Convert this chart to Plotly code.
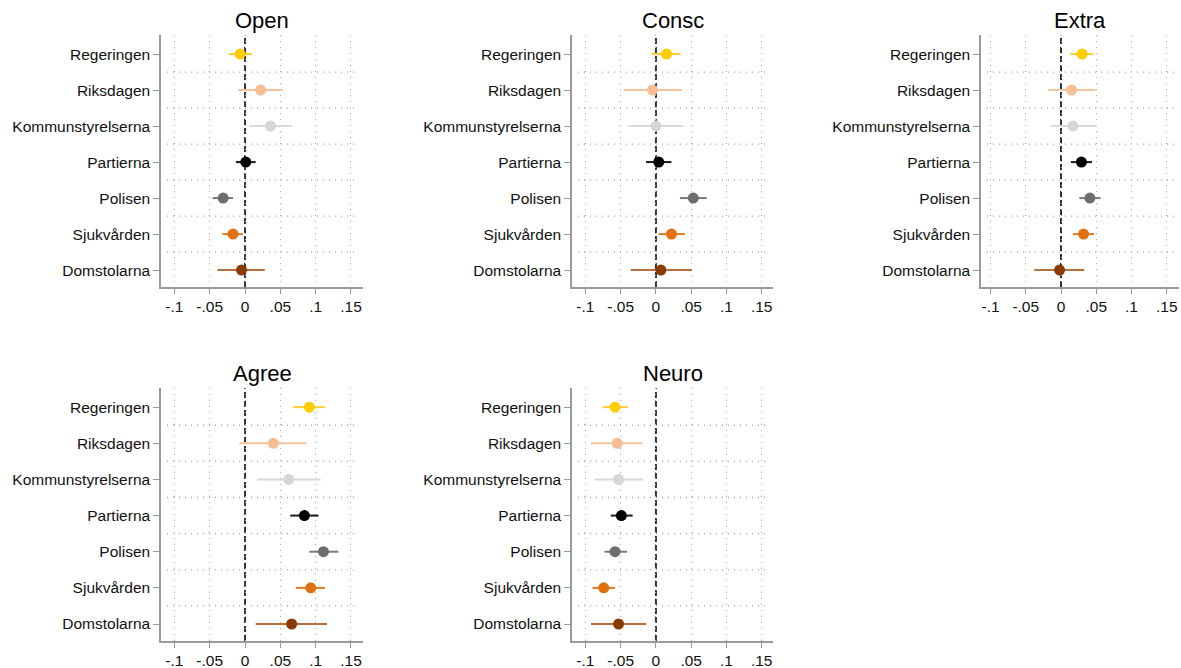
import plotly.graph_objects as go

categories = ["Regeringen", "Riksdagen", "Kommunstyrelserna", "Partierna",
              "Polisen", "Sjukvården", "Domstolarna"]
panels = ["Open", "Consc", "Extra", "Agree", "Neuro"]

marker_colors = ["#FFCC00", "#F6BE92", "#D6D6D6", "#000000", "#6E6E6E", "#E2700F", "#8A3C00"]
line_colors = ["#FFCC33", "#F6C39C", "#DADADA", "#1A1A1A", "#7A7A7A", "#E27A22", "#B5703F"]

open_est = [-0.007, 0.022, 0.036, 0.001, -0.031, -0.017, -0.005]
open_lo = [-0.023, -0.010, 0.006, -0.013, -0.046, -0.032, -0.039]
open_hi = [0.010, 0.053, 0.066, 0.015, -0.017, -0.003, 0.028]

consc_est = [0.015, -0.005, 0.000, 0.004, 0.053, 0.022, 0.007]
consc_lo = [-0.006, -0.046, -0.039, -0.014, 0.034, 0.004, -0.036]
consc_hi = [0.035, 0.037, 0.039, 0.022, 0.072, 0.041, 0.051]

extra_est = [0.030, 0.015, 0.017, 0.029, 0.041, 0.032, -0.002]
extra_lo = [0.013, -0.018, -0.015, 0.014, 0.026, 0.017, -0.038]
extra_hi = [0.046, 0.049, 0.051, 0.044, 0.056, 0.047, 0.033]

agree_est = [0.091, 0.040, 0.062, 0.084, 0.111, 0.093, 0.066]
agree_lo = [0.068, -0.008, 0.017, 0.064, 0.091, 0.072, 0.015]
agree_hi = [0.113, 0.087, 0.107, 0.104, 0.132, 0.113, 0.116]

neuro_est = [-0.058, -0.055, -0.053, -0.049, -0.058, -0.074, -0.053]
neuro_lo = [-0.076, -0.092, -0.087, -0.064, -0.073, -0.090, -0.092]
neuro_hi = [-0.040, -0.019, -0.018, -0.033, -0.041, -0.058, -0.014]

x_tickvals = [-0.1, -0.05, 0, 0.05, 0.1, 0.15]
x_ticktext = ["-.1", "-.05", "0", ".05", ".1", ".15"]

data = [
    (open_est, open_lo, open_hi),
    (consc_est, consc_lo, consc_hi),
    (extra_est, extra_lo, extra_hi),
    (agree_est, agree_lo, agree_hi),
    (neuro_est, neuro_lo, neuro_hi),
]

W, H = 1181, 668
col_px = [(161, 363), (572, 773), (981, 1179)]
col_ranges = [[-0.119, 0.167], [-0.119, 0.166], [-0.1135, 0.1674]]
row_px = [(35, 287), (388, 641)]

fig = go.Figure()
font_family = "Liberation Sans, Arial, Helvetica, sans-serif"
axis_color = "#9a9a9a"

for p, name in enumerate(panels):
    r, c = divmod(p, 3)
    xa = "x" if p == 0 else f"x{p+1}"
    ya = "y" if p == 0 else f"y{p+1}"
    est, lo, hi = data[p]
    for i, cat in enumerate(categories):
        fig.add_trace(go.Scatter(
            x=[est[i]], y=[i + 1], mode="markers",
            marker=dict(size=11, color=marker_colors[i]),
            error_x=dict(type="data", symmetric=False,
                         array=[hi[i] - est[i]], arrayminus=[est[i] - lo[i]],
                         width=0, thickness=2, color=line_colors[i]),
            xaxis=xa, yaxis=ya, showlegend=False, name=cat,
        ))
    x0, x1 = col_px[c]
    t, b = row_px[r]
    xd = [x0 / W, min(x1 / W, 1.0)]
    yd = [1 - b / H, 1 - t / H]
    xkey = "xaxis" if p == 0 else f"xaxis{p+1}"
    ykey = "yaxis" if p == 0 else f"yaxis{p+1}"
    fig.update_layout({
        xkey: dict(domain=xd, anchor=ya, range=col_ranges[c],
                   tickvals=x_tickvals, ticktext=x_ticktext,
                   showgrid=True, griddash="1px,5px", gridcolor="#aaaaaa", gridwidth=1.3,
                   zeroline=False, showline=True, linecolor=axis_color, linewidth=1.5,
                   ticks="outside", ticklen=5, tickcolor=axis_color, tickwidth=1.2,
                   tickfont=dict(size=15.5, color="#111111", family=font_family)),
        ykey: dict(domain=yd, anchor=xa, range=[7.47, 0.47],
                   tickvals=list(range(1, 8)), ticktext=categories,
                   showgrid=False, zeroline=False, showline=True,
                   linecolor=axis_color, linewidth=1.5,
                   ticks="outside", ticklen=6, tickcolor=axis_color, tickwidth=1.2,
                   tickfont=dict(size=15.5, color="#111111", family=font_family)),
    })
    # horizontal dotted separators between categories
    for k in range(1, 7):
        fig.add_shape(type="line", xref=f"{xa} domain", yref=ya,
                      x0=0.03, x1=0.98, y0=k + 0.5, y1=k + 0.5,
                      line=dict(color="#a0a0a0", width=1.3, dash="1px,5px"), layer="below")
    # dashed zero line
    fig.add_shape(type="line", xref=xa, yref=f"{ya} domain",
                  x0=0, x1=0, y0=0, y1=1,
                  line=dict(color="#333333", width=2, dash="6px,3px"), layer="below")
    # panel title
    fig.add_annotation(text=name, xref="paper", yref="paper",
                       x=(xd[0] + xd[1]) / 2, y=yd[1] + 15 / H,
                       xanchor="center", yanchor="middle", showarrow=False,
                       font=dict(size=22, color="#000000", family=font_family))

fig.update_layout(width=W, height=H, margin=dict(l=0, r=0, t=0, b=0),
                  paper_bgcolor="white", plot_bgcolor="white",
                  font=dict(family=font_family))

fig.write_html("out.html", config={"displayModeBar": False},
               post_script="document.body.style.margin='0';"
                           "document.body.style.overflow='hidden';")
